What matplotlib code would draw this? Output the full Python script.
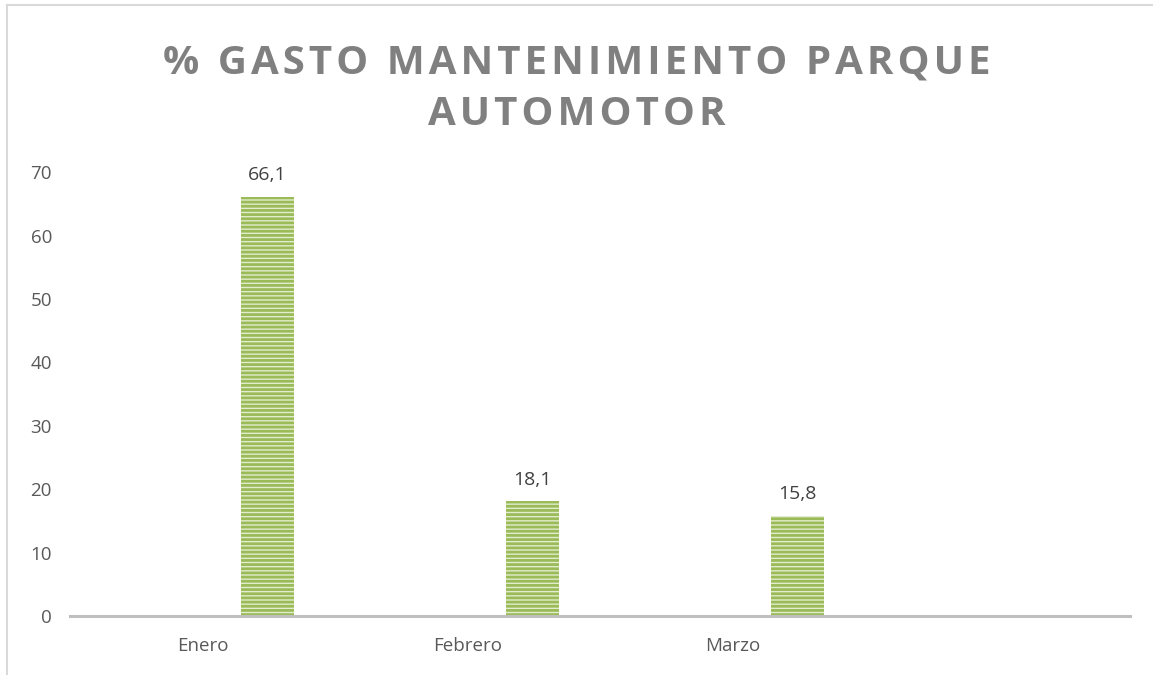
import matplotlib.pyplot as plt
from matplotlib.lines import Line2D
import numpy as np

plt.rcParams['font.family'] = ['Open Sans', 'DejaVu Sans']
plt.rcParams['hatch.linewidth'] = 2.0
plt.rcParams['hatch.color'] = '#9bbb59'

meses = ['Enero', 'Febrero', 'Marzo', '']
porcentaje = [66.1, 18.1, 15.8]
etiquetas = ['66,1', '18,1', '15,8']
titulo = ['% GASTO MANTENIMIENTO PARQUE', 'AUTOMOTOR']

fig = plt.figure(figsize=(11.53, 6.75), dpi=100)
ax = fig.add_axes([0.0607, 0.0874, 0.9193, 0.6576])

x = np.arange(len(porcentaje))
bars = ax.bar(x + 0.245, porcentaje, width=0.2, color='#e2ecce',
              edgecolor='#9bbb59', hatch='----', linewidth=0)
for b, txt in zip(bars, etiquetas):
    ax.text(b.get_x() + b.get_width() / 2, b.get_height() + 2.0, txt,
            ha='center', va='bottom', fontsize=14, color='#404040')

ax.set_xlim(-0.5, 3.5)
ax.set_ylim(0, 70)
ax.set_yticks(range(0, 71, 10))
ax.set_xticks(range(len(meses)))
ax.set_xticklabels(meses)
ax.tick_params(axis='both', length=0, labelsize=13.5, labelcolor='#595959')
ax.tick_params(axis='y', pad=13)
ax.tick_params(axis='x', pad=15)
for s in ['top', 'right', 'left']:
    ax.spines[s].set_visible(False)
ax.spines['bottom'].set_color('#bfbfbf')
ax.spines['bottom'].set_linewidth(2.2)

# letter-spaced title
sp = '\u200a'
lineas = [sp.join(list(t)) for t in titulo]
fig.text(0.5, 0.935, '\n'.join(lineas),
         ha='center', va='top', fontsize=29, fontweight='bold', color='#808080',
         linespacing=1.42)

# chart border
fig.add_artist(Line2D([7 / 1153, 7 / 1153], [0, 1 - 5 / 675], transform=fig.transFigure,
                      color='#d9d9d9', linewidth=1.5))
fig.add_artist(Line2D([7 / 1153, 1], [1 - 5 / 675, 1 - 5 / 675], transform=fig.transFigure,
                      color='#d9d9d9', linewidth=1.5))

fig.savefig('out.png', dpi=100)
